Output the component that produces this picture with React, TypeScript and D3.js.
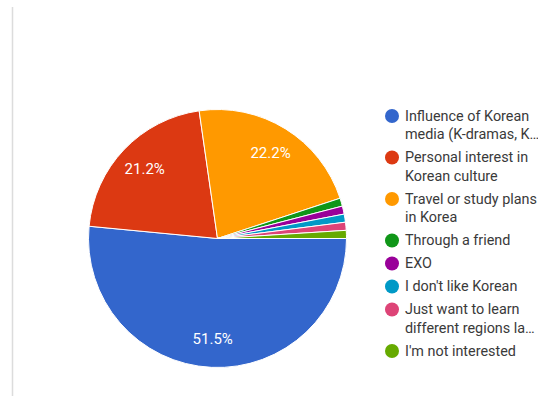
import React from "react";
import * as d3 from "d3";

const categories = [
  "Influence of Korean media (K-dramas, K-pop)",
  "Personal interest in Korean culture",
  "Travel or study plans in Korea",
  "Through a friend",
  "EXO",
  "I don't like Korean",
  "Just want to learn different regions languages",
  "I'm not interested",
];
const legendLines = [
  ["Influence of Korean", "media (K-dramas, K…"],
  ["Personal interest in", "Korean culture"],
  ["Travel or study plans", "in Korea"],
  ["Through a friend"],
  ["EXO"],
  ["I don't like Korean"],
  ["Just want to learn", "different regions la…"],
  ["I'm not interested"],
];
const counts = [51, 21, 22, 1, 1, 1, 1, 1];
const colors = ["#3366cc", "#dc3912", "#ff9900", "#109618", "#990099", "#0099c6", "#dd4477", "#66aa00"];

const W = 538, H = 396;
const cx = 217.5, cy = 238.5, R = 129;

export default function App() {
  const total = d3.sum(counts);
  const pie = d3.pie<number>().sort(null).value((d) => d)
    .startAngle(Math.PI / 2).endAngle(Math.PI / 2 + 2 * Math.PI);
  const arcs = pie(counts);
  const arc = d3.arc<d3.PieArcDatum<number>>().innerRadius(0).outerRadius(R);
  const labelArc = d3.arc<d3.PieArcDatum<number>>().innerRadius(R * 0.78).outerRadius(R * 0.78);

  // legend layout
  const legendX = 392, textX = 405;
  const lineH = 18.5;
  let y = 116;
  const legendItems = legendLines.map((lines, i) => {
    const item = { y, lines, i };
    y += lines.length * lineH + 4.5;
    return item;
  });

  return (
    <svg width={W} height={H} style={{ position: "absolute", left: 0, top: 0, background: "#fff" }}>
      <line x1={12.5} x2={12.5} y1={7} y2={H} stroke="#dcdcdc" strokeWidth={1.5} />
      <g transform={`translate(${cx},${cy})`}>
        {arcs.map((a, i) => (
          <path key={i} d={arc(a) || ""} fill={colors[i]} stroke="#fff" strokeWidth={1} />
        ))}
        {arcs.map((a, i) => {
          const pct = (a.data / total) * 100;
          if (pct < 5) return null;
          const [lx, ly] = labelArc.centroid(a);
          return (
            <text key={"l" + i} x={lx} y={ly} fill="#fff" fontFamily="Roboto, Arial, sans-serif"
              fontSize={15} textAnchor="middle" dominantBaseline="central">
              {pct.toFixed(1)}%
            </text>
          );
        })}
      </g>
      <g fontFamily="Roboto, Arial, sans-serif" fontSize={14.4} fill="#3a3a3a">
        {legendItems.map((it) => (
          <g key={it.i}>
            <circle cx={legendX} cy={it.y} r={7} fill={colors[it.i]} />
            {it.lines.map((t, j) => (
              <text key={j} x={textX} y={it.y + j * lineH} dominantBaseline="central">{t}</text>
            ))}
          </g>
        ))}
      </g>
    </svg>
  );
}
